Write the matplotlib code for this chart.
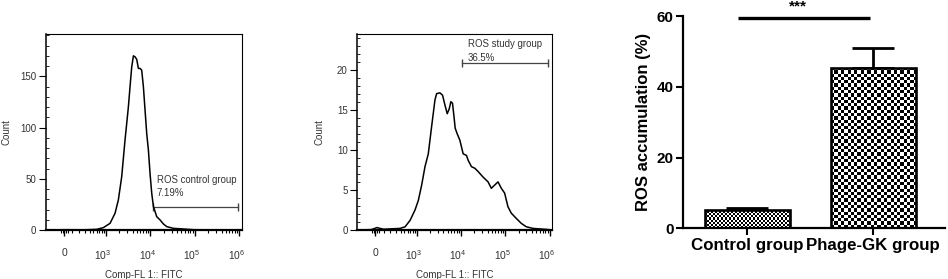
import numpy as np
import matplotlib
matplotlib.use("Agg")
import matplotlib.pyplot as plt
from matplotlib.transforms import ScaledTranslation

plt.rcParams['font.family'] = ['Liberation Sans', 'DejaVu Sans']
plt.rcParams['mathtext.fontset'] = 'custom'
plt.rcParams['mathtext.rm'] = 'Liberation Sans'
plt.rcParams['mathtext.it'] = 'Liberation Sans'
plt.rcParams['mathtext.bf'] = 'Liberation Sans:bold'

# ---------------- data ----------------
ctrl_fitc = [-255, 0, 300, 601, 865, 1233, 1603, 1906, 2270, 2698, 3210, 3502, 3817,
             4170, 4544, 4951, 5399, 5883, 6408, 6990, 7620, 8318, 9064, 9879, 10765,
             11743, 13957, 16590, 19712, 23440, 33090, 55550, 93320, 300000, 1150000]
ctrl_count = [0, 0.3, 0.2, 0.65, 2.3, 6.5, 16.3, 29.3, 52, 87.8, 120, 140, 159,
              170, 169, 166.5, 157.7, 157.7, 156, 140, 117, 94, 78, 55, 36,
              23, 13, 9.8, 5.9, 3.3, 1.6, 1.0, 0.3, 0, 0]

study_fitc = [-255, -50, 16.5, 100, 387, 518, 685, 897, 1071, 1277, 1522, 1811, 2155,
              2563, 2797, 3323, 3817, 4310, 4866, 5399, 5883, 6408, 6872, 7363, 8167,
              9390, 11150, 13260, 14450, 17170, 20410, 24240, 31410, 40730, 48370,
              57500, 68390, 81270, 96500, 114750, 136400, 176700, 229000, 296800,
              419000, 836500, 1150000]
study_count = [0, 0.05, 0.3, 0.1, 0.2, 0.4, 1.2, 2.5, 3.7, 5.6, 7.9, 9.5, 12.9,
               16.2, 17.0, 17.1, 16.8, 15.6, 14.5, 15.1, 16.0, 15.8, 14.3, 12.7, 12.0,
               11.2, 9.5, 9.3, 8.7, 7.9, 7.7, 7.3, 6.6, 6.0, 5.2,
               5.6, 6.0, 5.2, 4.6, 2.9, 2.1, 1.45, 0.83, 0.41,
               0.2, 0.08, 0]

ctrl_gate = [11350, 944000]
ctrl_gate_level = 22
ctrl_gate_name = "ROS control group"
ctrl_gate_pct = "7.19%"

study_gate = [10765, 911700]
study_gate_level = 20.8
study_gate_name = "ROS study group"
study_gate_pct = "36.5%"

flow_xticks = [0, 1e3, 1e4, 1e5, 1e6]
flow_xticklabels = ["0", r"$10^{3}$", r"$10^{4}$", r"$10^{5}$", r"$10^{6}$"]

groups = ["Control group", "Phage-GK group"]
means = [5.1, 45.4]
sems = [0.5, 5.65]
sig_label = "***"

# ---------------- figure ----------------
W, H = 948, 279
fig = plt.figure(figsize=(W / 100, H / 100), dpi=100)

def px_axes(l, t, r, b):
    return fig.add_axes([l / W, 1 - b / H, (r - l) / W, (b - t) / H])

C = 233.0
fwd = lambda x: np.arcsinh(np.asarray(x) / C)
inv = lambda y: C * np.sinh(np.asarray(y))

txt_col = '#333333'

def flow_panel(ax, xs, ys, ymax, ymajor, yminor, gate, level, name, pct, text_x, name_y, pct_y):
    ax.set_xscale('function', functions=(fwd, inv))
    ax.plot(xs, ys, color='black', lw=1.1, zorder=3)
    ax.plot(gate, [level, level], color='#444444', lw=0.9, marker='|', ms=6, mew=1.0)
    ax.text(text_x, name_y, name, fontsize=6.9, color=txt_col, ha='left', va='center')
    ax.text(text_x, pct_y, pct, fontsize=6.9, color=txt_col, ha='left', va='center')
    ax.set_xlim(-255, 1.153e6)
    ax.set_ylim(0, ymax)
    ax.set_xticks(flow_xticks, flow_xticklabels)
    minor = [-40, -20, 20, 40]
    minor += list(range(100, 1000, 100))
    for k in [3, 4, 5]:
        minor += [m * 10 ** k for m in range(2, 10)]
    ax.set_xticks(minor, minor=True)
    ax.set_yticks(ymajor)
    ax.set_yticks(yminor, minor=True)
    ax.tick_params(axis='x', which='major', direction='out', length=4, width=1.0,
                   labelsize=7.4, labelcolor=txt_col, pad=9)
    ax.tick_params(axis='x', which='minor', direction='out', length=2, width=0.8)
    ax.tick_params(axis='y', which='major', direction='out', length=5, width=0.8,
                   labelsize=7.0, labelcolor=txt_col, pad=2)
    ax.tick_params(axis='y', which='minor', direction='in', length=2, width=0.6)
    for lbl in ax.get_xticklabels()[1:]:
        lbl.set_transform(lbl.get_transform() + ScaledTranslation(-3 / 100, 0, fig.dpi_scale_trans))
    ax.spines['bottom'].set_linewidth(1.6)
    ax.spines['left'].set_linewidth(1.1)
    ax.spines['top'].set_linewidth(0.8)
    ax.spines['right'].set_linewidth(0.8)
    ax.set_ylabel("Count", fontsize=7.0, color=txt_col)
    ax.set_xlabel("Comp-FL 1:: FITC", fontsize=7.0, color=txt_col, labelpad=6)

ax1 = px_axes(46, 34.3, 242, 230)
flow_panel(ax1, ctrl_fitc, ctrl_count, 191, [0, 50, 100, 150], list(range(0, 191, 10)),
           ctrl_gate, ctrl_gate_level, ctrl_gate_name, ctrl_gate_pct, 13980, 48.8, 35.8)
ax1.yaxis.set_label_coords(-0.178, 0.5)

ax2 = px_axes(357.3, 34.3, 552.3, 230)
flow_panel(ax2, study_fitc, study_count, 24.4, [0, 5, 10, 15, 20], list(range(0, 25, 1)),
           study_gate, study_gate_level, study_gate_name, study_gate_pct, 14420, 23.25, 21.5)
ax2.yaxis.set_label_coords(-0.166, 0.5)

# ---------------- bar chart ----------------
ax3 = px_axes(683.3, 16, 945, 228.3)
xpos = np.arange(len(groups))
ax3.set_xlim(-0.508, 1.569)
ax3.set_ylim(0, 60)
bars = ax3.bar(xpos, means, width=0.675, facecolor='none', edgecolor='black',
               linewidth=1.9, zorder=3)
ax3.errorbar(xpos, means, yerr=[[0] * len(sems), sems], fmt='none', ecolor='black',
             elinewidth=2.0, capsize=15, capthick=2.0, zorder=2)

def checker(ax, bar, sq_px):
    x0, y0 = bar.get_x(), bar.get_y()
    x1, y1 = x0 + bar.get_width(), y0 + bar.get_height()
    p0 = ax.transData.transform((x0, y0))
    p1 = ax.transData.transform((x1, y1))
    nc = max(1, int(round(abs(p1[0] - p0[0]) / sq_px)))
    nr = max(1, int(round(abs(p1[1] - p0[1]) / sq_px)))
    grid = (np.add.outer(np.arange(nr), np.arange(nc)) % 2).astype(float)
    im = ax.imshow(grid, extent=(x0, x1, y0, y1), cmap='gray', vmin=0, vmax=1,
                   interpolation='nearest', aspect='auto', zorder=2.5)
    im.set_clip_path(bar)

checker(ax3, bars[0], 2.0)
checker(ax3, bars[1], 3.3)
ax3.set_xlim(-0.508, 1.569)
ax3.set_ylim(0, 60)

ax3.plot([-0.07, 0.97], [59.35, 59.35], color='black', lw=2.4, clip_on=False,
         solid_capstyle='butt')
ax3.text(0.405, 61.6, sig_label, fontsize=11, fontweight='bold', ha='center',
         va='baseline', clip_on=False)

ax3.spines['top'].set_visible(False)
ax3.spines['right'].set_visible(False)
ax3.spines['left'].set_linewidth(1.6)
ax3.spines['bottom'].set_linewidth(1.6)
ax3.set_xticks(xpos, groups)
ax3.set_yticks([0, 20, 40, 60])
ax3.tick_params(axis='both', direction='out', length=5, width=1.5, labelsize=11)
ax3.tick_params(axis='y', pad=2)
ax3.tick_params(axis='x', pad=2, labelsize=12.2)
for lbl in ax3.get_xticklabels() + ax3.get_yticklabels():
    lbl.set_fontweight('bold')
ax3.set_ylabel("ROS accumulation (%)", fontsize=12, fontweight='bold', labelpad=4)

fig.savefig("out.png", dpi=100)
